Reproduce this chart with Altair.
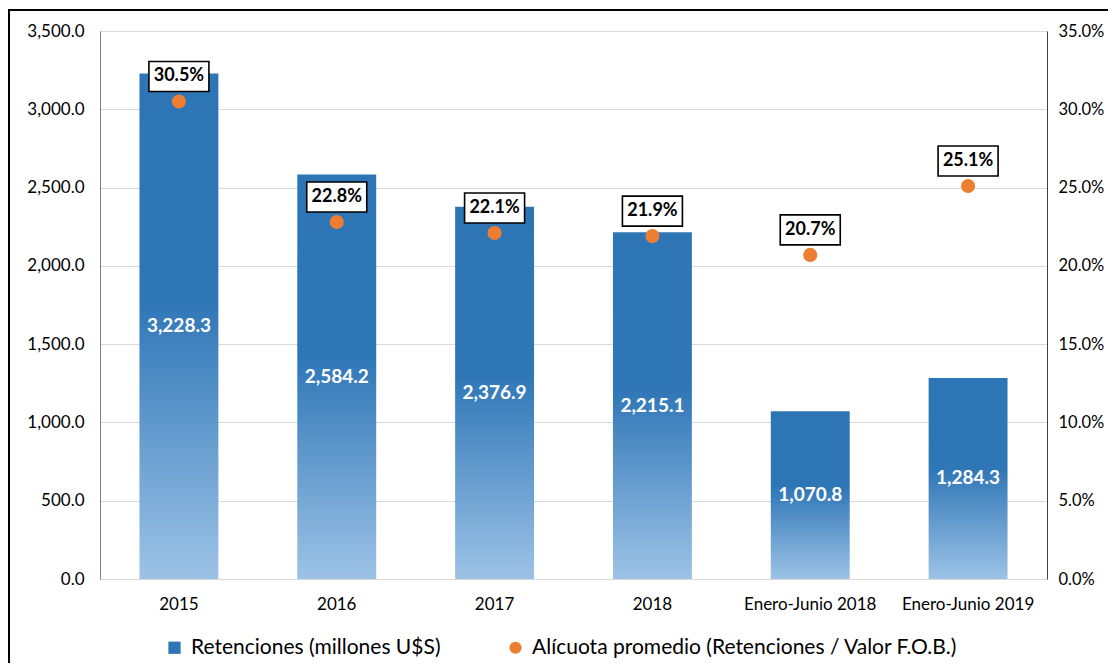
import altair as alt
import pandas as pd

categories = ["2015", "2016", "2017", "2018", "Enero-Junio 2018", "Enero-Junio 2019"]
retenciones = [3228.3, 2584.2, 2376.9, 2215.1, 1070.8, 1284.3]
alicuota_pct = [30.5, 22.8, 22.1, 21.9, 20.7, 25.1]

SER_RET = "Retenciones (millones U$S)"
SER_ALI = "Alícuota promedio (Retenciones / Valor F.O.B.)"

df = pd.DataFrame({
    "cat": categories,
    "ret": retenciones,
    "mid": [v / 2 for v in retenciones],
    "ali": [v / 100 for v in alicuota_pct],
    "serie": [SER_ALI] * len(categories),
})

FONT = "Lato"
x_enc = alt.X(
    "cat:N", sort=categories,
    scale=alt.Scale(paddingInner=0.5, paddingOuter=0.25),
    axis=alt.Axis(title=None, labelAngle=0, labelFontSize=17, labelColor="#000000",
                  labelPadding=17, ticks=False, domain=False, labelFont=FONT),
)

left_scale = alt.Scale(domain=[0, 3500], nice=False)
left_axis = alt.Axis(title=None, values=[0, 500, 1000, 1500, 2000, 2500, 3000, 3500],
                     format=",.1f", labelFontSize=17, labelColor="#000000", labelPadding=16,
                     ticks=False, domain=True, domainColor="#7f7f7f", grid=True,
                     gridColor="#d9d9d9", labelFont=FONT)

right_scale = alt.Scale(domain=[0, 0.35], nice=False)
right_axis = alt.Axis(title=None, orient="right",
                      values=[0, 0.05, 0.1, 0.15, 0.2, 0.25, 0.3, 0.35],
                      format=".1%", labelFontSize=16.5, labelColor="#000000",
                      labelPadding=11, ticks=False, domain=True,
                      domainColor="#404040", grid=False, labelFont=FONT)

gradient = alt.LinearGradient(
    gradient="linear",
    stops=[
        alt.GradientStop(color="#2E75B6", offset=0),
        alt.GradientStop(color="#2F76B7", offset=0.45),
        alt.GradientStop(color="#9DC3E6", offset=1),
    ],
    x1=0, x2=0, y1=0, y2=1,
)

base = alt.Chart(df)

bars = base.mark_bar(fill=gradient).encode(
    x=x_enc, y=alt.Y("ret:Q", scale=left_scale, axis=left_axis)
)

bar_labels = base.mark_text(
    color="white", fontWeight="bold", fontSize=19, font=FONT, baseline="middle"
).encode(
    x=x_enc,
    y=alt.Y("mid:Q", scale=left_scale, axis=left_axis),
    text=alt.Text("ret:Q", format=",.1f"),
)

left = alt.layer(bars, bar_labels)

legend = alt.Legend(title=None, orient="none", direction="horizontal",
                    legendX=64, legendY=606, labelFontSize=21, labelLimit=0,
                    labelFont=FONT, labelColor="#000000",
                    symbolSize=150, columnPadding=64, labelOffset=6)

points = base.mark_point(filled=True, size=200, opacity=1).encode(
    x=x_enc,
    y=alt.Y("ali:Q", scale=right_scale, axis=right_axis),
    color=alt.Color("serie:N",
                    scale=alt.Scale(domain=[SER_RET, SER_ALI], range=["#2E75B6", "#ED7D31"]),
                    legend=legend),
    shape=alt.Shape("serie:N",
                    scale=alt.Scale(domain=[SER_RET, SER_ALI], range=["square", "circle"]),
                    legend=legend),
)

box = base.mark_point(
    shape="M-1,-0.5L1,-0.5L1,0.5L-1,0.5Z", size=3600, filled=True,
    fill="white", stroke="black", strokeWidth=1.6, opacity=1, yOffset=-25,
).encode(x=x_enc, y=alt.Y("ali:Q", scale=right_scale, axis=right_axis))

pct_labels = base.mark_text(
    fontWeight="bold", fontSize=18, font=FONT, color="black", baseline="middle", yOffset=-25
).encode(
    x=x_enc,
    y=alt.Y("ali:Q", scale=right_scale, axis=right_axis),
    text=alt.Text("ali:Q", format=".1%"),
)

right = alt.layer(points, box, pct_labels)

frame = alt.Chart(pd.DataFrame({"k": [0]})).mark_rect(
    fillOpacity=0, stroke="black", strokeWidth=2
).encode(x=alt.value(-91), x2=alt.value(1100), y=alt.value(-21), y2=alt.value(700))

chart = alt.layer(left, right, frame).resolve_scale(y="independent").properties(
    width=947, height=548,
    autosize=alt.AutoSizeParams(type="none"),
    padding={"left": 92, "top": 23, "right": 61, "bottom": 84},
    background="white",
).configure_view(stroke="#bfbfbf", strokeWidth=1).configure(font=FONT)

chart.save("out.html", embed_options={"renderer": "svg", "actions": False})
